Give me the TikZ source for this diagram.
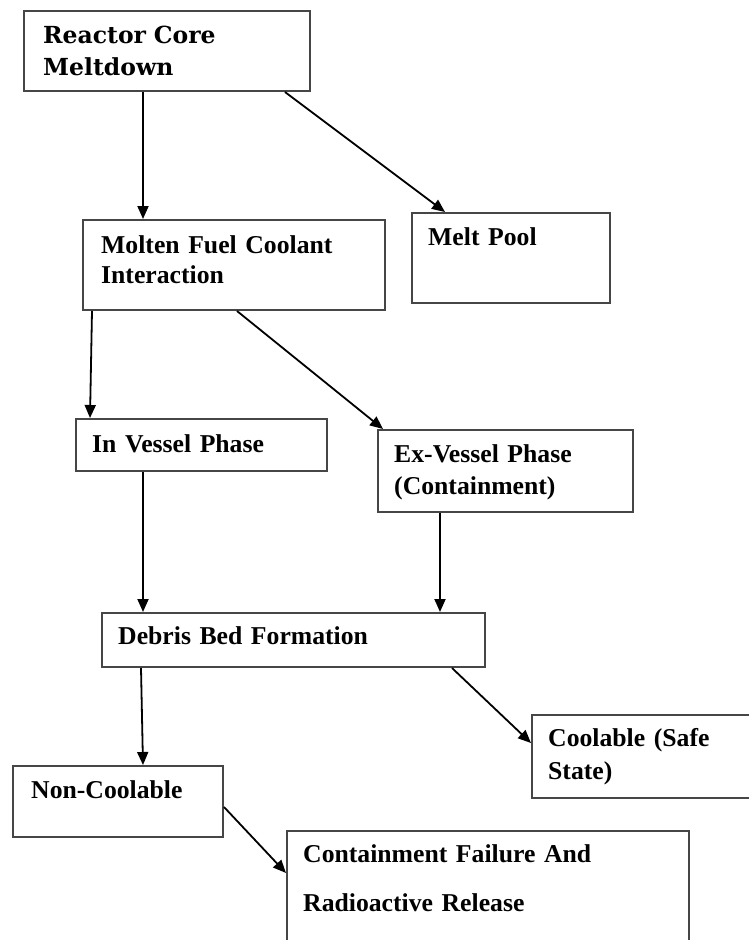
\documentclass[tikz,border=0pt]{standalone}
\usepackage{fontspec}
\setmainfont{Liberation Serif}
\newfontfamily\slabfont{DejaVu Serif}
\usepackage{tikz}
\usetikzlibrary{arrows.meta, positioning}
\definecolor{boxgray}{RGB}{70,70,70}

\begin{document}
\begin{tikzpicture}[
  x=1pt, y=-1pt,
  box/.style={
    draw=boxgray,
    line width=2pt,
    anchor=north west,
    inner sep=0pt
  },
  lbl/.style={
    anchor=base west,
    inner sep=0pt,
    text width=12cm,
    align=left,
    font=\bfseries\fontsize{25.7}{32}\selectfont
  },
  arrow/.style={-{Triangle[length=13pt, width=11pt]}, line width=1.8pt}
]
\useasboundingbox (0,0) rectangle (749,940);
\clip (0,0) rectangle (749,940);
% boxes
\node[box, minimum width=286pt, minimum height=80pt] (core) at (23,10) {};
\node[box, minimum width=302pt, minimum height=90pt] (mfci) at (82,219) {};
\node[box, minimum width=198pt, minimum height=90pt] (pool) at (411,212) {};
\node[box, minimum width=251pt, minimum height=52pt] (invessel) at (75,418) {};
\node[box, minimum width=255pt, minimum height=82pt] (exvessel) at (377,429) {};
\node[box, minimum width=383pt, minimum height=54pt] (debris) at (101,612) {};
\node[box, minimum width=240pt, minimum height=83pt] (coolable) at (531,714) {};
\node[box, minimum width=210pt, minimum height=71pt] (noncool) at (12,765) {};
\node[box, minimum width=402pt, minimum height=130pt] (release) at (286,830) {};
% texts
\node[lbl, font=\slabfont\bfseries\fontsize{23.5}{32}\selectfont] (core-lbl)
  at ([xshift=20pt, yshift=-33pt]core.north west) {Reactor Core\\Meltdown};
\node[lbl, font=\bfseries\fontsize{25.7}{30}\selectfont] (mfci-lbl)
  at ([xshift=19pt, yshift=-34pt]mfci.north west) {Molten Fuel Coolant\\Interaction};
\node[lbl] (pool-lbl) at ([xshift=17pt, yshift=-33pt]pool.north west) {Melt Pool};
\node[lbl] (invessel-lbl) at ([xshift=17pt, yshift=-34pt]invessel.north west) {In Vessel Phase};
\node[lbl] (exvessel-lbl)
  at ([xshift=17pt, yshift=-33pt]exvessel.north west) {Ex-Vessel Phase\\(Containment)};
\node[lbl] (debris-lbl) at ([xshift=17pt, yshift=-32pt]debris.north west) {Debris Bed Formation};
\node[lbl, font=\bfseries\fontsize{25.7}{33}\selectfont] (coolable-lbl)
  at ([xshift=17pt, yshift=-32pt]coolable.north west) {Coolable (Safe\\State)};
\node[lbl] (noncool-lbl) at ([xshift=19pt, yshift=-33pt]noncool.north west) {Non-Coolable};
\node[lbl, font=\bfseries\fontsize{25.7}{49}\selectfont] (release-lbl)
  at ([xshift=17pt, yshift=-32pt]release.north west) {Containment Failure And\\Radioactive Release};
% arrows
\draw[arrow] ([xshift=120pt]core.south west) -- ([xshift=61pt]mfci.north west);
\draw[arrow] ([xshift=262pt]core.south west) -- ([xshift=34pt]pool.north west);
\draw[arrow] ([xshift=10pt]mfci.south west) -- ([xshift=15pt]invessel.north west);
\draw[arrow] ([xshift=155pt]mfci.south west) -- ([xshift=6pt]exvessel.north west);
\draw[arrow] ([xshift=68pt]invessel.south west) -- ([xshift=42pt]debris.north west);
\draw[arrow] ([xshift=63pt]exvessel.south west) -- ([xshift=339pt]debris.north west);
\draw[arrow] ([xshift=40pt]debris.south west) -- ([xshift=131pt]noncool.north west);
\draw[arrow] ([xshift=351pt]debris.south west) -- ([yshift=-29pt]coolable.north west);
\draw[arrow] ([yshift=-42pt]noncool.north east) -- ([yshift=-43pt]release.north west);
\end{tikzpicture}
\end{document}
